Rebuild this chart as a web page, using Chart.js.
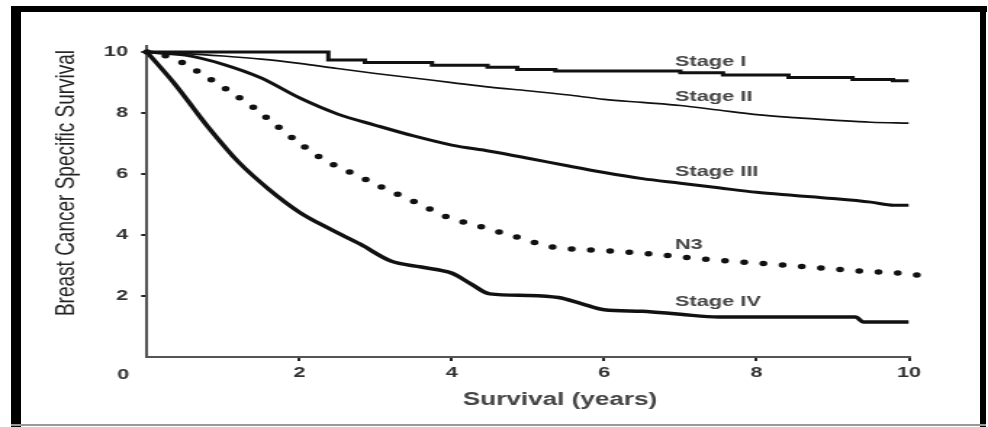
<!DOCTYPE html>
<html>
<head>
<meta charset="utf-8">
<script src="https://cdn.jsdelivr.net/npm/chart.js@4.4.1/dist/chart.umd.min.js"></script>
<style>
  html, body { margin: 0; padding: 0; background: #fff; }
  body { width: 988px; height: 427px; position: relative; overflow: hidden; }
  /* chart is drawn narrow then stretched, like the source scan */
  #wrap { position: absolute; left: 0; top: 0; width: 681px; height: 427px;
          transform: scaleX(1.4508); transform-origin: 0 0; }
  .frame { position: absolute; background: #000; }
</style>
</head>
<body>
<div id="wrap"><canvas id="survivalChart"></canvas></div>
<div class="frame" style="left:11px;top:6px;width:976px;height:6px"></div>
<div class="frame" style="left:11px;top:6px;width:10px;height:421px"></div>
<div class="frame" style="left:980px;top:6px;width:6px;height:421px"></div>
<div class="frame" style="left:11px;top:424px;width:975px;height:2px;background:#999"></div>
<script>
// Data (years, survival)
const stage1X = [0, 2.38, 2.86, 3.74, 4.47, 4.86, 5.36, 7.0, 7.56, 8.42, 9.26, 9.79, 10];
const stage1Y = [10, 9.74, 9.66, 9.57, 9.5, 9.43, 9.38, 9.32, 9.25, 9.17, 9.1, 9.06, 9.06];

const stage2X = [0, 0.5, 1, 1.5, 2, 2.5, 3, 3.5, 4, 4.5, 5, 5.5, 6, 6.5, 7, 7.5, 8, 8.5, 9, 9.5, 10];
const stage2Y = [10, 9.95, 9.87, 9.77, 9.63, 9.46, 9.3, 9.15, 9.0, 8.85, 8.73, 8.6, 8.45, 8.35, 8.25, 8.1, 7.95, 7.85, 7.77, 7.7, 7.67];

const stage3X = [0, 0.5, 1, 1.5, 2, 2.5, 3, 3.5, 4, 4.5, 5, 5.5, 6, 6.5, 7, 7.5, 8, 8.5, 9, 9.5, 9.8, 10];
const stage3Y = [10, 9.9, 9.6, 9.15, 8.5, 7.97, 7.6, 7.25, 6.95, 6.75, 6.52, 6.28, 6.05, 5.85, 5.7, 5.55, 5.4, 5.3, 5.2, 5.08, 4.98, 4.98];

const n3X = [0, 0.34, 0.72, 1.08, 1.41, 1.71, 2.02, 2.35, 2.75, 3.14, 3.55, 3.94, 4.4, 4.86, 5.31, 5.81, 6.32, 6.78, 7.3, 7.83, 8.34, 8.84, 9.34, 9.86, 10.34];
const n3Y = [10, 9.8, 9.28, 8.72, 8.16, 7.57, 6.98, 6.43, 5.97, 5.5, 5.05, 4.59, 4.26, 3.93, 3.61, 3.51, 3.44, 3.34, 3.21, 3.11, 3.02, 2.92, 2.82, 2.75, 2.62];

const stage4X = [0, 0.35, 0.8, 1.2, 1.6, 2.0, 2.4, 2.8, 3.2, 3.6, 4.0, 4.25, 4.5, 5.0, 5.4, 5.7, 6.0, 6.5, 7.0, 7.5, 9.3, 9.4, 10];
const stage4Y = [10, 9.0, 7.55, 6.4, 5.5, 4.75, 4.2, 3.7, 3.15, 2.95, 2.75, 2.4, 2.07, 2.02, 1.95, 1.75, 1.55, 1.5, 1.4, 1.31, 1.31, 1.15, 1.15];

const xTicks = [2, 4, 6, 8, 10];
const yTicks = [2, 4, 6, 8, 10];

const curveLabels = ['Stage I', 'Stage II', 'Stage III', 'N3', 'Stage IV'];
const labelAtX = 6.93;
const labelAtY = [9.67, 8.52, 6.07, 3.67, 1.8];

const FONT = '"Liberation Sans", Arial, sans-serif';

function pts(xs, ys) {
    return xs.map((x, i) => ({ x: x, y: ys[i] }));
}

// text that sits on the plot: curve names, corner zero, axis titles
const textPlugin = {
    id: 'plotText',
    afterDraw(chart) {
        const ctx = chart.ctx;
        const xs = chart.scales.x, ys = chart.scales.y;
        ctx.save();
        ctx.fillStyle = '#444';
        ctx.font = 'bold 15px ' + FONT;
        ctx.textAlign = 'left';
        ctx.textBaseline = 'middle';
        curveLabels.forEach((t, i) => {
            ctx.fillText(t, xs.getPixelForValue(labelAtX), ys.getPixelForValue(labelAtY[i]));
        });

        // lone zero at the corner
        ctx.fillStyle = '#333';
        ctx.textAlign = 'center';
        ctx.fillText('0', xs.getPixelForValue(0) - 16.5, ys.getPixelForValue(0) + 18);

        // x title
        ctx.fillStyle = '#444';
        ctx.font = 'bold 18px ' + FONT;
        ctx.fillText('Survival (years)', 386, 400);

        // y title
        ctx.translate(46, 183);
        ctx.rotate(-Math.PI / 2);
        ctx.font = '19px ' + FONT;
        ctx.fillStyle = '#222';
        ctx.fillText('Breast Cancer Specific Survival', 0, 0);
        ctx.restore();
    }
};

const smooth = { cubicInterpolationMode: 'monotone', pointRadius: 0, borderColor: '#111', fill: false };

new Chart(document.getElementById('survivalChart'), {
    type: 'line',
    data: {
        datasets: [
            { label: 'Stage I', data: pts(stage1X, stage1Y), stepped: true, borderWidth: 3, pointRadius: 0, borderColor: '#111' },
            { label: 'Stage II', data: pts(stage2X, stage2Y), borderWidth: 1.6, ...smooth },
            { label: 'Stage III', data: pts(stage3X, stage3Y), borderWidth: 3, ...smooth },
            { label: 'N3', data: pts(n3X, n3Y), borderWidth: 5.5, borderDash: [0, 13.3], borderCapStyle: 'round', clip: false, ...smooth },
            { label: 'Stage IV', data: pts(stage4X, stage4Y), borderWidth: 3.5, ...smooth }
        ]
    },
    options: {
        responsive: true,
        maintainAspectRatio: false,
        animation: false,
        layout: { padding: { left: 0, right: 54.5, top: 46, bottom: 0 } },
        plugins: { legend: { display: false }, tooltip: { enabled: false } },
        scales: {
            x: {
                type: 'linear', min: 0, max: 10,
                border: { color: '#555', width: 2 },
                grid: { drawOnChartArea: false, drawTicks: true, tickLength: 4, color: '#222', lineWidth: 2 },
                ticks: { color: '#333', font: { family: FONT, size: 15, weight: 'bold' }, padding: 3 },
                afterBuildTicks: s => { s.ticks = xTicks.map(v => ({ value: v })); },
                afterFit: s => { s.height = 70; }
            },
            y: {
                type: 'linear', min: 0, max: 10.2,
                border: { color: '#555', width: 2 },
                grid: { drawOnChartArea: false, drawTicks: true, tickLength: 4, color: '#222', lineWidth: 2 },
                ticks: { color: '#333', font: { family: FONT, size: 15, weight: 'bold' }, padding: 9 },
                afterBuildTicks: s => { s.ticks = yTicks.map(v => ({ value: v })); },
                afterFit: s => { s.width = 101.3; }
            }
        }
    },
    plugins: [textPlugin]
});
</script>
</body>
</html>
